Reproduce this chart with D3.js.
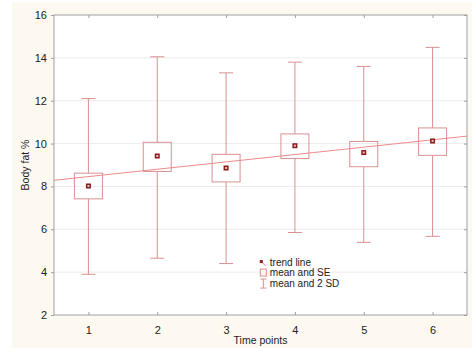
<!DOCTYPE html>
<html>
<head>
<meta charset="utf-8">
<script src="https://cdn.jsdelivr.net/npm/d3@7"></script>
<style>
  body { margin: 0; background: #fff; }
  text { font-family: "Liberation Sans", Arial, sans-serif; fill: #222; }
</style>
</head>
<body>
<div id="chart"></div>
<script>
// values
const timePoints = [1, 2, 3, 4, 5, 6];
const means  = [8.02, 9.42, 8.86, 9.90, 9.58, 10.12];
const seLow  = [7.42, 8.70, 8.21, 9.30, 8.92, 9.45];
const seHigh = [8.62, 10.06, 9.50, 10.45, 10.10, 10.73];
const sdLow  = [3.90, 4.65, 4.40, 5.85, 5.39, 5.67];
const sdHigh = [12.10, 14.05, 13.30, 13.80, 13.60, 14.49];
const yTicks = [2, 4, 6, 8, 10, 12, 14, 16];
const legendLabels = ["trend line", "mean and SE", "mean and 2 SD"];

const W = 472, H = 348;
const margin = {top: 15, right: 5, bottom: 33, left: 54},
  width = W - margin.left - margin.right,
  height = H - margin.top - margin.bottom;

const lineCol = "#d99090", markCol = "#8e1b1b", trendCol = "#f08a8a";

const data = timePoints.map((t, i) => ({
  t: t, mean: means[i], seLo: seLow[i], seHi: seHigh[i], sdLo: sdLow[i], sdHi: sdHigh[i]
}));

let svg = d3.select("#chart").append("svg")
  .attr("width", W).attr("height", H);

// cream page background
svg.append("rect")
  .attr("x", 12).attr("y", 2)
  .attr("width", W - 12).attr("height", H - 2)
  .style("fill", "#fdf9f0");

const g = svg.append("g")
  .attr("transform", `translate(${margin.left}, ${margin.top})`);

const x = d3.scaleLinear().domain([0.5, 6.5]).range([0, width]);
const y = d3.scaleLinear().domain([2, 16]).range([height, 0]);

g.append("rect")
  .attr("width", width).attr("height", height)
  .style("fill", "#fff");

// grid
g.append("g").selectAll("line")
  .data(yTicks.slice(1, -1))
  .join("line")
    .attr("x1", 0).attr("x2", width)
    .attr("y1", d => y(d)).attr("y2", d => y(d))
    .style("stroke", "#ececec");

// trend line (least squares of means)
const tm = d3.mean(timePoints), ym = d3.mean(means);
const slope = d3.sum(timePoints, (t, i) => (t - tm) * (means[i] - ym)) /
  d3.sum(timePoints, t => (t - tm) * (t - tm));
const trend = t => ym + slope * (t - tm);
g.append("line")
  .attr("x1", x(0.5)).attr("x2", x(6.5))
  .attr("y1", y(trend(0.5))).attr("y2", y(trend(6.5)))
  .style("stroke", trendCol).style("stroke-width", 1);

const cap = 7, boxW = 14;
const grp = g.append("g").selectAll("g")
  .data(data)
  .join("g");

// whiskers
grp.append("line")
  .attr("x1", d => x(d.t)).attr("x2", d => x(d.t))
  .attr("y1", d => y(d.sdHi)).attr("y2", d => y(d.seHi))
  .style("stroke", lineCol);
grp.append("line")
  .attr("x1", d => x(d.t)).attr("x2", d => x(d.t))
  .attr("y1", d => y(d.seLo)).attr("y2", d => y(d.sdLo))
  .style("stroke", lineCol);
grp.append("line")
  .attr("x1", d => x(d.t) - cap).attr("x2", d => x(d.t) + cap)
  .attr("y1", d => y(d.sdHi)).attr("y2", d => y(d.sdHi))
  .style("stroke", lineCol);
grp.append("line")
  .attr("x1", d => x(d.t) - cap).attr("x2", d => x(d.t) + cap)
  .attr("y1", d => y(d.sdLo)).attr("y2", d => y(d.sdLo))
  .style("stroke", lineCol);

// SE boxes
grp.append("rect")
  .attr("x", d => x(d.t) - boxW).attr("width", boxW * 2)
  .attr("y", d => y(d.seHi)).attr("height", d => y(d.seLo) - y(d.seHi))
  .style("fill", "none").style("stroke", lineCol);

// mean markers
grp.append("rect")
  .attr("x", d => x(d.t) - 2.5).attr("y", d => y(d.mean) - 2.5)
  .attr("width", 5).attr("height", 5)
  .style("fill", markCol);
grp.append("rect")
  .attr("x", d => x(d.t) - 1).attr("y", d => y(d.mean) - 1)
  .attr("width", 2).attr("height", 2)
  .style("fill", "#e8c0c0");

// frame
g.append("rect")
  .attr("width", width).attr("height", height)
  .style("fill", "none").style("stroke", "#a0a0a0");

// axes
const yAxis = g.append("g")
  .call(d3.axisLeft(y).tickValues(yTicks).tickSize(3).tickPadding(4));
const xAxis = g.append("g")
  .attr("transform", `translate(0, ${height})`)
  .call(d3.axisBottom(x).tickValues(timePoints).tickSize(-3).tickPadding(11).tickFormat(d3.format("d")));
g.append("g")
  .attr("transform", `translate(${width}, 0)`)
  .call(d3.axisRight(y).tickValues(yTicks).tickSize(-3).tickFormat(""));
g.append("g")
  .call(d3.axisTop(x).tickValues(timePoints).tickSize(-3).tickFormat(""));

g.selectAll(".domain").remove();
g.selectAll(".tick line").style("stroke", "#a0a0a0");
g.selectAll(".tick text")
  .style("font-size", "11px")
  .style("font-family", "Liberation Sans, Arial, sans-serif")
  .style("fill", "#222");

// axis titles
svg.append("text")
  .attr("transform", `translate(29, ${margin.top + height / 2}) rotate(-90)`)
  .attr("text-anchor", "middle")
  .style("font-size", "10.5px")
  .text("Body fat %");
svg.append("text")
  .attr("x", margin.left + width / 2).attr("y", 344)
  .attr("text-anchor", "middle")
  .style("font-size", "10.5px")
  .text("Time points");

// legend
const lg = g.append("g").attr("transform", `translate(${x(3.49)}, ${y(4.47)})`);
const rowH = 10.5;
lg.selectAll("text")
  .data(legendLabels)
  .join("text")
    .attr("x", 10).attr("y", (d, i) => i * rowH + 3.5)
    .style("font-size", "10px")
    .text(d => d);
// trend symbol
lg.append("line")
  .attr("x1", 1).attr("y1", -1).attr("x2", 6).attr("y2", 4)
  .style("stroke", trendCol);
lg.append("rect")
  .attr("x", 0).attr("y", -2).attr("width", 3).attr("height", 3)
  .style("fill", markCol);
// SE symbol
lg.append("rect")
  .attr("x", 0.5).attr("y", rowH - 3.5).attr("width", 6).attr("height", 7)
  .style("fill", "#fdf9f0").style("stroke", lineCol);
// SD symbol
lg.append("line")
  .attr("x1", 3.5).attr("x2", 3.5).attr("y1", 2 * rowH - 4).attr("y2", 2 * rowH + 5)
  .style("stroke", lineCol);
lg.append("line")
  .attr("x1", 0.5).attr("x2", 6.5).attr("y1", 2 * rowH - 4).attr("y2", 2 * rowH - 4)
  .style("stroke", lineCol);
lg.append("line")
  .attr("x1", 0.5).attr("x2", 6.5).attr("y1", 2 * rowH + 5).attr("y2", 2 * rowH + 5)
  .style("stroke", lineCol);
</script>
</body>
</html>
